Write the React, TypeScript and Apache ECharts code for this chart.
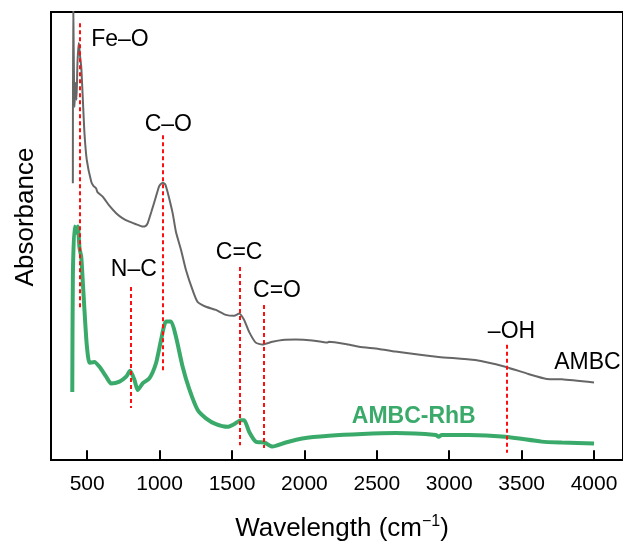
import React, { useEffect, useRef } from "react";
import * as echarts from "echarts";

const FONT = '"Liberation Sans", Arial, Helvetica, sans-serif';

// FTIR spectrum of the magnetic biochar (AMBC), arbitrary absorbance units
const ambcWavenumber = [
  401, 403, 412, 419, 426, 433, 442, 450, 459, 470,
  481, 497, 528, 543, 562, 571, 607, 654, 700, 743,
  791, 840, 883, 902, 918, 943, 975, 998, 1021, 1039,
  1055, 1090, 1113, 1148, 1182, 1228, 1262, 1320, 1389, 1458,
  1515, 1549, 1583, 1618, 1664, 1710, 1779, 1848, 1940, 2054,
  2158, 2169, 2285, 2376, 2514, 2629, 2927, 3180, 3387, 3547,
  3674, 3777, 4000,
];
const ambcAbsorbance = [
  61.8, 104, 78.8, 84.2, 80.4, 88.8, 93.1, 90.4, 87.7, 80.4,
  73.0, 67.0, 62.1, 61.2, 60.6, 59.8, 58.8, 56.7, 55.1, 54.0,
  53.2, 52.6, 52.1, 52.2, 52.9, 55.4, 58.8, 61.2, 61.9, 61.5,
  59.8, 55.1, 50.9, 46.9, 42.4, 37.9, 35.3, 34.2, 33.5, 32.4,
  32.2, 32.7, 31.3, 28.6, 26.2, 25.8, 26.4, 26.8, 26.9, 26.7,
  26.2, 26.4, 25.9, 25.3, 24.8, 24.2, 23.0, 22.3, 20.8, 19.2,
  18.1, 18.0, 17.3,
];

// FTIR spectrum after Rhodamine B adsorption (AMBC-RhB)
const rhbWavenumber = [
  397, 401, 412, 424, 435, 447, 459, 470, 481, 497,
  516, 550, 585, 631, 665, 723, 769, 796, 826, 849,
  883, 929, 975, 1010, 1044, 1079, 1113, 1159, 1205, 1262,
  1320, 1389, 1469, 1515, 1561, 1584, 1618, 1664, 1722, 1779,
  1871, 1985, 2169, 2399, 2629, 2907, 2927, 2948, 3134, 3387,
  3639, 3777, 4000,
];
const rhbAbsorbance = [
  15.2, 40.9, 52.1, 50.7, 52.1, 47.3, 45.3, 39.5, 33.5, 25.7,
  21.7, 21.9, 20.8, 18.6, 17.1, 17.5, 18.6, 19.9, 17.9, 15.6,
  17.1, 18.2, 21.6, 26.8, 30.9, 30.9, 27.5, 20.8, 15.8, 11.2,
  9.3, 8.0, 7.4, 8.0, 8.9, 8.9, 6.3, 4.1, 3.9, 3.0,
  3.9, 4.8, 5.4, 5.8, 6.0, 5.6, 5.2, 5.6, 5.6, 5.2,
  4.1, 3.9, 3.7,
];

// Band assignments: wavenumber and the vertical extent of each marker
const bandLabels = ["Fe–O", "N–C", "C–O", "C=C", "C=O", "–OH"];
const bandWavenumbers = [450, 800, 1020, 1550, 1720, 3400];
const bandUpper = [97.5, 38.6, 72.5, 43.1, 34.6, 25.7];
const bandLower = [33.9, 11.6, 19.4, 3.3, 2.7, 1.6];
const bandLabelX = [726, 822, 1060, 1549, 1811, 3430];
const bandLabelY = [94.3, 42.9, 75.2, 46.7, 38.2, 29.0];

const seriesNames = ["AMBC", "AMBC-RhB"];
const seriesLabelX = [3954, 2755];
const seriesLabelY = [22.1, 10.0];

const xTicks = [500, 1000, 1500, 2000, 2500, 3000, 3500, 4000];
const TICK_HEIGHT = 2.2; // inward tick length, in absorbance units

const GRAY = "#666666";
const GREEN = "#3aaa6a";
const RED = "#ff1010";

const zip = (xs: number[], ys: number[]) => xs.map((x, i) => [x, ys[i]]);

export default function App() {
  const ref = useRef<HTMLDivElement>(null);

  useEffect(() => {
    if (!ref.current) return;
    const chart = echarts.init(ref.current, undefined, { renderer: "svg" });

    const bandMarkLines = bandWavenumbers.map((w, i) => [
      { coord: [w, bandUpper[i]] },
      { coord: [w, bandLower[i]] },
    ]);

    // Major ticks as short solid segments rising from the baseline
    const tickMarkLines = xTicks.map((w) => [
      { coord: [w, 0.05] },
      { coord: [w, TICK_HEIGHT] },
    ]);

    const bandMarkPoints = bandLabels.map((t, i) => ({
      coord: [bandLabelX[i], bandLabelY[i]],
      label: { formatter: t },
    }));

    chart.setOption({
      animation: false,
      grid: {
        left: 51,
        top: 12,
        width: 574,
        height: 448,
        show: true,
        borderColor: "#000",
        borderWidth: 2,
        backgroundColor: "transparent",
      },
      xAxis: {
        type: "value",
        min: 250,
        max: 4200,
        axisLine: { show: true, lineStyle: { color: "#000", width: 2 } },
        axisTick: {
          show: true,
          inside: true,
          length: 9,
          customValues: xTicks,
          lineStyle: { color: "#000", width: 2 },
        },
        axisLabel: {
          color: "#000",
          fontSize: 21,
          fontFamily: FONT,
          margin: 12,
          customValues: xTicks,
          formatter: (v: number) => String(v),
        },
        splitLine: { show: false },
      },
      yAxis: {
        type: "value",
        min: 0,
        max: 100,
        axisLine: { show: true, lineStyle: { color: "#000", width: 2 } },
        axisTick: { show: false },
        axisLabel: { show: false },
        splitLine: { show: false },
      },
      graphic: [
        {
          type: "text",
          x: 24,
          y: 217,
          rotation: Math.PI / 2,
          style: {
            text: "Absorbance",
            font: `26px ${FONT}`,
            fill: "#000",
            textAlign: "center",
            textVerticalAlign: "middle",
          },
        },
        {
          type: "text",
          x: 342,
          y: 527,
          style: {
            text: "{a|Wavelength (cm}{s|−1}{a|)}",
            fill: "#000",
            textAlign: "center",
            textVerticalAlign: "middle",
            rich: {
              a: { fontSize: 26, fontFamily: FONT, fill: "#000", lineHeight: 30 },
              s: { fontSize: 16, fontFamily: FONT, fill: "#000", padding: [0, 0, 14, 0] },
            },
          },
        },
      ],
      series: [
        {
          name: seriesNames[0],
          type: "line",
          data: zip(ambcWavenumber, ambcAbsorbance),
          showSymbol: false,
          smooth: 0.2,
          clip: true,
          lineStyle: { color: GRAY, width: 2 },
          itemStyle: { color: GRAY },
          z: 2,
          markLine: {
            symbol: ["none", "none"],
            silent: true,
            label: { show: false },
            lineStyle: { color: "#000", width: 2, type: "solid" },
            data: tickMarkLines,
          },
          markPoint: {
            symbol: "circle",
            symbolSize: 0,
            silent: true,
            label: {
              show: true,
              position: "inside",
              color: "#000",
              fontSize: 23,
              fontFamily: FONT,
            },
            data: [
              {
                coord: [seriesLabelX[0], seriesLabelY[0]],
                label: { formatter: seriesNames[0] },
              },
            ],
          },
        },
        {
          name: seriesNames[1],
          type: "line",
          data: zip(rhbWavenumber, rhbAbsorbance),
          showSymbol: false,
          smooth: 0.2,
          clip: true,
          lineStyle: { color: GREEN, width: 4 },
          itemStyle: { color: GREEN },
          z: 3,
          markPoint: {
            symbol: "circle",
            symbolSize: 0,
            silent: true,
            label: {
              show: true,
              position: "inside",
              color: GREEN,
              fontSize: 23,
              fontWeight: "bold",
              fontFamily: FONT,
            },
            data: [
              {
                coord: [seriesLabelX[1], seriesLabelY[1]],
                label: { formatter: seriesNames[1] },
              },
            ],
          },
        },
        {
          name: "bands",
          type: "line",
          data: [],
          z: 4,
          markLine: {
            symbol: ["none", "none"],
            silent: true,
            label: { show: false },
            lineStyle: { color: RED, width: 2, type: [4, 3] },
            data: bandMarkLines,
          },
          markPoint: {
            symbol: "circle",
            symbolSize: 0,
            silent: true,
            label: {
              show: true,
              position: "inside",
              color: "#000",
              fontSize: 23,
              fontFamily: FONT,
            },
            data: bandMarkPoints,
          },
        },
      ],
    });

    return () => chart.dispose();
  }, []);

  return (
    <div
      ref={ref}
      style={{ position: "fixed", left: 0, top: 0, width: 623, height: 543 }}
    />
  );
}
